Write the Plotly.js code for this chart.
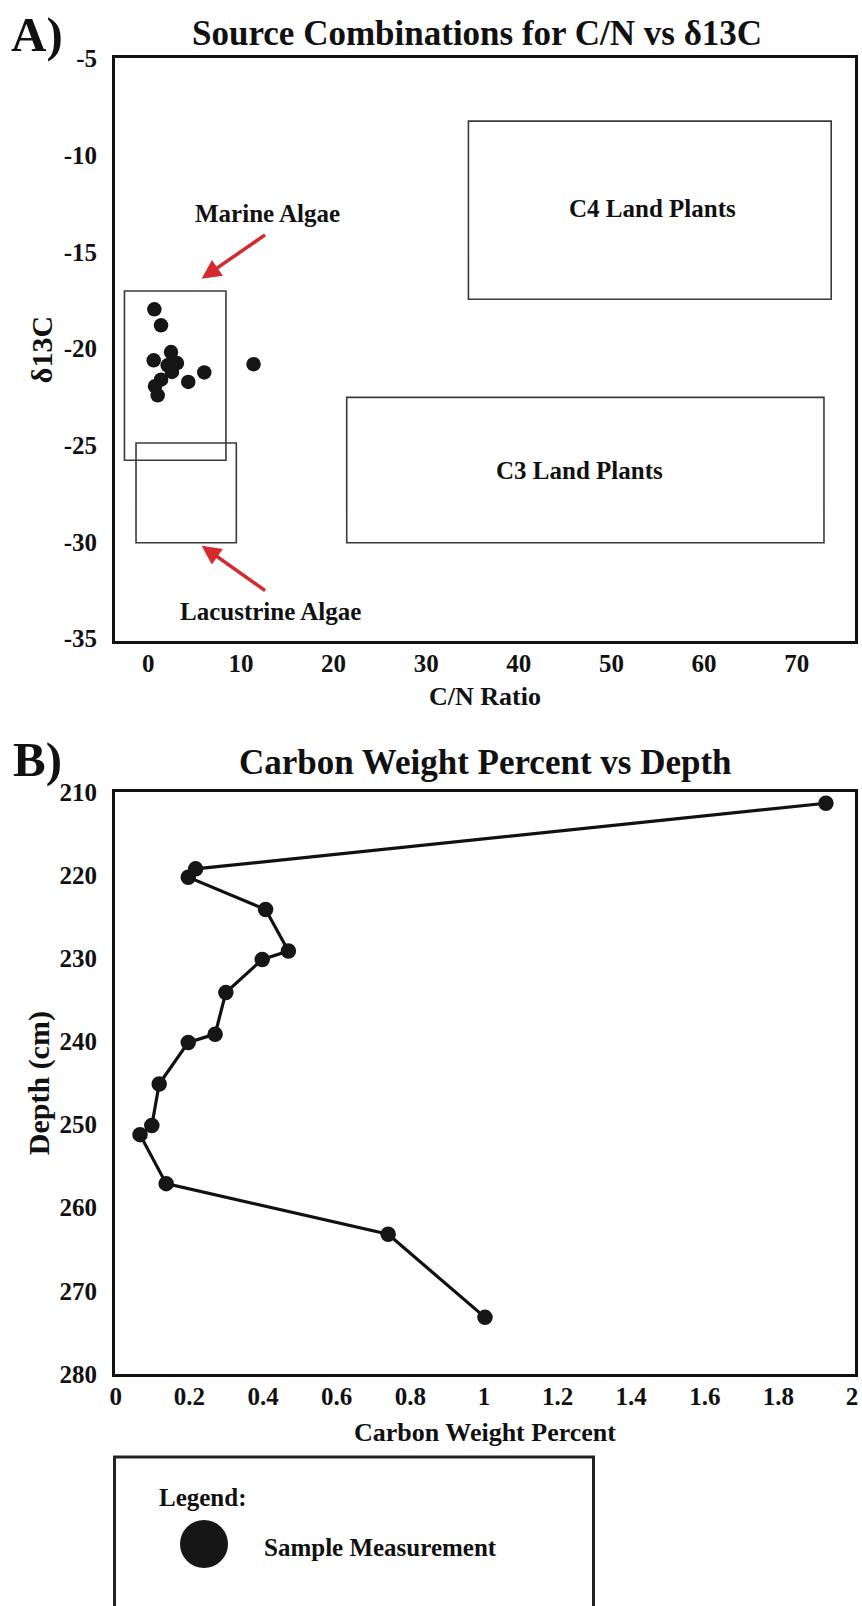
<!DOCTYPE html>
<html>
<head>
<meta charset="utf-8">
<script src="https://cdn.plot.ly/plotly-3.0.1.min.js"></script>
<style>
  html, body { margin: 0; padding: 0; background: #fff; }
  #chart { width: 862px; height: 1606px; }
</style>
</head>
<body>
<div id="chart"></div>
<script>
// ---------- Panel A data: C/N ratio vs d13C ----------
const cnRatio = [0.65, 1.37, 2.45, 0.58, 3.09, 2.09, 2.55, 1.37, 0.72, 1.01, 6.04, 4.31, 11.36];
const d13C    = [-17.97, -18.80, -20.18, -20.61, -20.75, -20.87, -21.21, -21.61, -21.95, -22.42, -21.24, -21.73, -20.81];

// Source end-member ranges (C/N and d13C boxes)
const sourceNames = ['Marine Algae', 'Lacustrine Algae', 'C4 Land Plants', 'C3 Land Plants'];
const sourceCnMin   = [-2.58, -1.33, 34.56, 21.42];
const sourceCnMax   = [8.38, 9.5, 73.73, 72.95];
const sourceD13CMin = [-25.78, -30.05, -17.45, -30.05];
const sourceD13CMax = [-17.02, -24.89, -8.23, -22.53];

// Tick labels of panel A's y axis (plain hyphen minus, as in the figure)
const d13CTicks = [-5, -10, -15, -20, -25, -30, -35];
const d13CTickText = ['-5', '-10', '-15', '-20', '-25', '-30', '-35'];

// ---------- Panel B data: carbon weight percent vs depth ----------
const carbonWt = [1.929, 0.217, 0.197, 0.407, 0.469, 0.398, 0.299, 0.270, 0.197, 0.118, 0.098, 0.066, 0.137, 0.740, 1.003];
const depthCm  = [211.3, 219.2, 220.2, 224.1, 229.1, 230.1, 234.1, 239.1, 240.1, 245.1, 250.1, 251.2, 257.1, 263.2, 273.2];

// ---------- Text ----------
const titleA = 'Source Combinations for C/N vs δ13C';
const titleB = 'Carbon Weight Percent vs Depth';
const xTitleA = 'C/N Ratio', yTitleA = 'δ13C';
const xTitleB = 'Carbon Weight Percent', yTitleB = 'Depth (cm)';
const legendTitle = 'Legend:', legendItem = 'Sample Measurement';

// ---------- Layout helpers ----------
const W = 862, H = 1606;
const px = x => x / W;
const py = y => 1 - y / H;
const SERIF = 'Liberation Serif, Times New Roman, serif';
const f = (size, color) => ({ family: SERIF, size: size, color: color || '#111', weight: 'bold' });

const traces = [
  { type: 'scatter', mode: 'markers', x: cnRatio, y: d13C, xaxis: 'x', yaxis: 'y',
    marker: { color: '#161616', size: 14.5 }, name: legendItem, showlegend: false },
  { type: 'scatter', mode: 'lines+markers', x: carbonWt, y: depthCm, xaxis: 'x2', yaxis: 'y2',
    line: { color: '#111', width: 3.2 }, marker: { color: '#161616', size: 15.5 },
    name: legendItem, showlegend: false }
];

const shapes = sourceNames.map((n, i) => ({
  type: 'rect', xref: 'x', yref: 'y',
  x0: sourceCnMin[i], x1: sourceCnMax[i], y0: sourceD13CMin[i], y1: sourceD13CMax[i],
  line: { color: '#3a3a3a', width: 1.6 }, fillcolor: 'rgba(0,0,0,0)', layer: 'below'
}));
// legend box + symbol
shapes.push({ type: 'rect', xref: 'paper', yref: 'paper', x0: px(114.5), x1: px(593.5), y0: py(1612), y1: py(1457),
  line: { color: '#222', width: 3 } });
shapes.push({ type: 'circle', xref: 'paper', yref: 'paper', x0: px(180), x1: px(228), y0: py(1568), y1: py(1520),
  fillcolor: '#161616', line: { color: '#161616', width: 0 } });

const labelPos = [[12.82, -13.0], [13.23, -33.63], [54.4, -12.75], [46.6, -26.3]];
const annotations = [
  { text: 'A)', xref: 'paper', yref: 'paper', x: px(37), y: py(35), showarrow: false, font: f(49), xanchor: 'center', yanchor: 'middle' },
  { text: 'B)', xref: 'paper', yref: 'paper', x: px(37), y: py(759), showarrow: false, font: f(49), xanchor: 'center', yanchor: 'middle' },
  { text: titleA, xref: 'paper', yref: 'paper', x: px(477), y: py(34), showarrow: false, font: f(35), xanchor: 'center', yanchor: 'middle' },
  { text: titleB, xref: 'paper', yref: 'paper', x: px(486), y: py(762), showarrow: false, font: f(35), xanchor: 'center', yanchor: 'middle' },
  { text: legendTitle, xref: 'paper', yref: 'paper', x: px(157), y: py(1497), showarrow: false, font: f(25), xanchor: 'left', yanchor: 'middle' },
  { text: legendItem, xref: 'paper', yref: 'paper', x: px(262), y: py(1547), showarrow: false, font: f(25), xanchor: 'left', yanchor: 'middle' }
];
sourceNames.forEach((n, i) => annotations.push({
  text: n, xref: 'x', yref: 'y', x: labelPos[i][0], y: labelPos[i][1], showarrow: false,
  font: f(25), xanchor: 'center', yanchor: 'middle'
}));
// red arrows pointing to the algae boxes
const RED = '#d42a2e';
annotations.push({ text: '', xref: 'x', yref: 'y', x: 5.75, y: -16.39, ax: 65, ay: -45, showarrow: true,
  arrowhead: 2, arrowsize: 1.1, arrowwidth: 3.5, arrowcolor: RED, standoff: 0 });
annotations.push({ text: '', xref: 'x', yref: 'y', x: 5.75, y: -30.2, ax: 65, ay: 46, showarrow: true,
  arrowhead: 2, arrowsize: 1.1, arrowwidth: 3.5, arrowcolor: RED, standoff: 0 });

const axisCommon = {
  showline: true, mirror: true, linewidth: 3, linecolor: '#111',
  showgrid: false, zeroline: false, tickcolor: 'rgba(0,0,0,0)',
  tickfont: f(25), automargin: false
};

const layout = {
  width: W, height: H,
  margin: { l: 0, r: 0, t: 0, b: 0 },
  paper_bgcolor: '#fff', plot_bgcolor: '#fff',
  showlegend: false,
  xaxis: Object.assign({}, axisCommon, {
    domain: [px(115), px(855)], anchor: 'y', range: [-3.6, 76.3], dtick: 10, tick0: 0,
    ticks: '', ticklabelstandoff: -2,
    title: { text: xTitleA, font: f(26), standoff: 12 }
  }),
  yaxis: Object.assign({}, axisCommon, {
    domain: [py(640.7), py(58.3)], anchor: 'x', range: [-35.12, -4.98],
    tickmode: 'array', tickvals: d13CTicks, ticktext: d13CTickText,
    ticks: 'outside', ticklen: 10,
    title: { text: yTitleA, font: f(30), standoff: 3 }
  }),
  xaxis2: Object.assign({}, axisCommon, {
    domain: [px(115), px(855)], anchor: 'y2', range: [-0.002, 2.008], dtick: 0.2, tick0: 0,
    ticks: '', ticklabelstandoff: -2,
    title: { text: xTitleB, font: f(26), standoff: 14 }
  }),
  yaxis2: Object.assign({}, axisCommon, {
    domain: [py(1374), py(792.3)], anchor: 'x2', range: [280.02, 209.98], dtick: 10, tick0: 0,
    ticks: 'outside', ticklen: 10,
    title: { text: yTitleB, font: f(30), standoff: 1 }
  }),
  shapes: shapes,
  annotations: annotations
};

Plotly.newPlot('chart', traces, layout, { displayModeBar: false, staticPlot: true });
</script>
</body>
</html>
